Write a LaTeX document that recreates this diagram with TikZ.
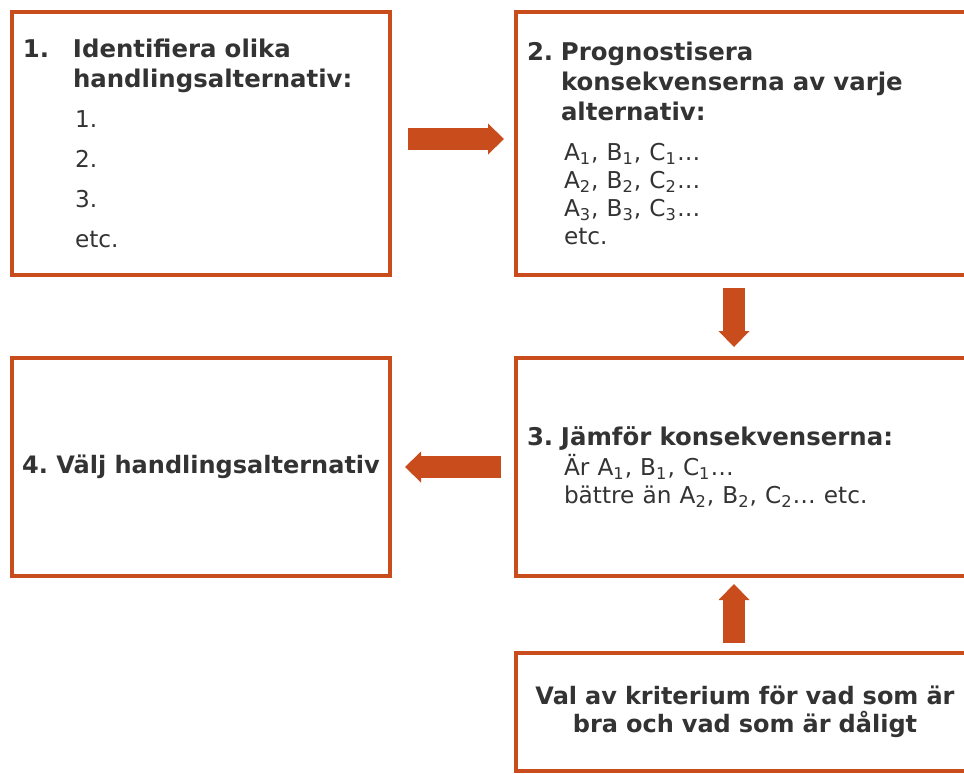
\documentclass[tikz,border=0pt]{standalone}
\usepackage{fontspec}
\setmainfont{DejaVu Sans}
\usetikzlibrary{arrows.meta}
\definecolor{rust}{HTML}{C84C1C}
\definecolor{ink}{HTML}{333333}
\newcommand{\trio}[1]{A\textsubscript{#1}, B\textsubscript{#1}, C\textsubscript{#1}…}
\newcommand{\sm}{\fontsize{11.6}{14}\selectfont}
\begin{document}
\begin{tikzpicture}[x=0.5pt,y=-0.5pt,
    box/.style={draw=rust,line width=2pt,outer sep=0pt,inner xsep=5.5pt,inner ysep=0pt,
        text=ink,font=\fontsize{12.2}{15}\selectfont\frenchspacing},
    narrowbox/.style={box,minimum width=189pt,text width=178pt},
    widebox/.style={box,minimum width=229pt,text width=218pt},
    blockarrow/.style={draw=rust,line width=11pt,-{Triangle[length=8pt,width=15.5pt,line width=0pt]}}]
    \useasboundingbox (0,0) rectangle (964,773);
    % the five steps
    \node[narrowbox,minimum height=131.5pt,align=left] (alt) at (201,143.5)
        {\makebox[25pt][l]{\textbf{1.}}\textbf{Identifiera olika}\\
         \hspace*{25pt}\textbf{handlingsalternativ:}\\[5pt]
         \hspace*{26pt}{\sm 1.}\\[5pt]
         \hspace*{26pt}{\sm 2.}\\[5pt]
         \hspace*{26pt}{\sm 3.}\\[5pt]
         \hspace*{26pt}{\sm etc.}};
    \node[widebox,minimum height=131.5pt,align=left] (prog) at (745,143.5)
        {\makebox[17pt][l]{\textbf{2.}}\textbf{Prognostisera}\\
         \hspace*{17pt}\textbf{konsekvenserna av varje}\\
         \hspace*{17pt}\textbf{alternativ:}\\[5pt]
         \hspace*{18.5pt}{\sm\trio{1}}\\[-1pt]
         \hspace*{18.5pt}{\sm\trio{2}}\\[-1pt]
         \hspace*{18.5pt}{\sm\trio{3}}\\[-1pt]
         \hspace*{18.5pt}{\sm etc.}};
    \node[widebox,minimum height=109pt,align=left] (jmf) at (745,467)
        {\makebox[17pt][l]{\textbf{3.}}\textbf{Jämför konsekvenserna:}\\
         \hspace*{18.5pt}{\sm Är \trio{1}}\\[-1pt]
         \hspace*{18.5pt}{\sm bättre än \trio{2} etc.}};
    \node[box,inner xsep=0pt,minimum width=189pt,minimum height=109pt,
        font=\fontsize{12}{15}\selectfont\frenchspacing] (valj) at (201,467)
        {\textbf{4. Välj handlingsalternativ}};
    \node[widebox,minimum height=59pt,align=center,font=\fontsize{12}{14}\selectfont] (krit) at (745,712)
        {\textbf{Val av kriterium för vad som är}\\
         \textbf{bra och vad som är dåligt}};
    % block arrows
    \draw[blockarrow,shorten <=9pt,shorten >=6pt] ([yshift=2.25pt]alt.east) -- ([yshift=2.25pt]prog.west);
    \draw[blockarrow,shorten <=6.5pt,shorten >=5.5pt] ([xshift=-5.5pt]prog.south) -- ([xshift=-5.5pt]jmf.north);
    \draw[blockarrow,shorten <=7.5pt,shorten >=7.5pt] (jmf.west) -- (valj.east);
    \draw[blockarrow,shorten <=5pt,shorten >=4pt] ([xshift=-5.5pt]krit.north) -- ([xshift=-5.5pt]jmf.south);
\end{tikzpicture}
\end{document}
